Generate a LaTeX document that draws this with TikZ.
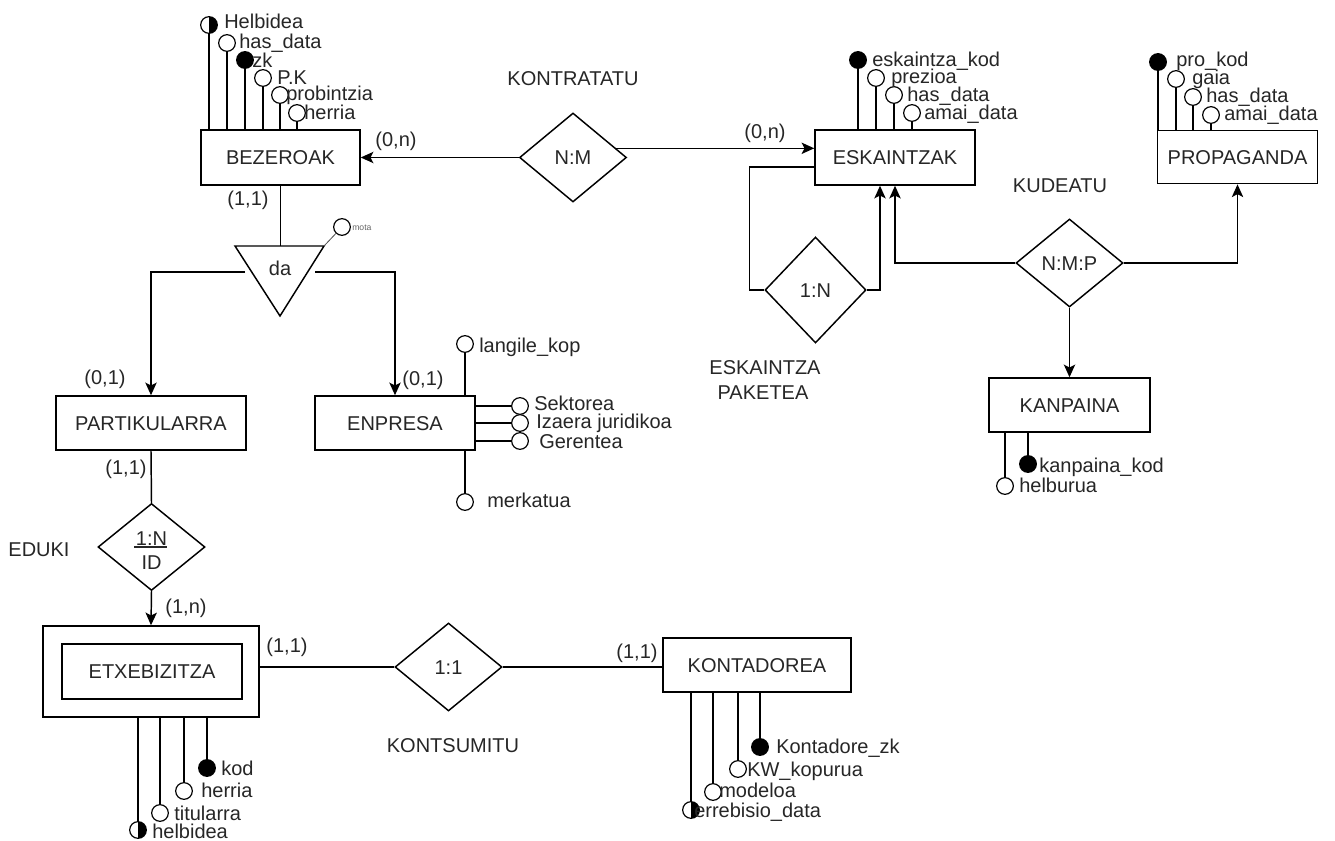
\documentclass[tikz,border=0pt]{standalone}
\usepackage{fontspec}
\setmainfont{Liberation Sans}
\usetikzlibrary{arrows.meta,shapes.geometric,calc}
\begin{document}
\begin{tikzpicture}[x=0.75pt,y=-0.75pt,
  txt/.style={font=\fontsize{15}{18}\selectfont, text=black!85, inner sep=0pt, text height=10.7pt, text depth=0pt},
  lbl/.style={txt, anchor=west},
  ent/.style={draw, line width=1.1pt, fill=white, txt},
  rel/.style={diamond, draw, line width=1.1pt, inner sep=0pt, txt},
  conn/.style={line width=1.1pt},
  arr/.style={conn, -{Stealth[length=9.5pt,width=8.5pt,inset=2.2pt]}},
  attr/.style={circle, draw, line width=0.9pt, fill=white, minimum size=12.5pt, inner sep=0pt},
  key/.style={attr, fill=black},
  half/.style={attr, path picture={\fill[black] (path picture bounding box.north) rectangle (path picture bounding box.south east);}}
]
\useasboundingbox (0,0) rectangle (1335,841);

% ---------- entities ----------
\node[ent, minimum width=119.25pt, minimum height=41.25pt] (bez) at (280.5,157.5) {BEZEROAK};
\node[ent, minimum width=120pt, minimum height=41.25pt] (esk) at (895,157.5) {ESKAINTZAK};
\node[ent, minimum width=120pt, minimum height=40pt] (prop) at (1237.5,157) {PROPAGANDA};
\node[ent, minimum width=120.75pt, minimum height=40.5pt] (kan) at (1069.5,405) {KANPAINA};
\node[ent, minimum width=142.5pt, minimum height=40.5pt] (part) at (151,423) {PARTIKULARRA};
\node[ent, minimum width=120pt, minimum height=40.5pt] (enp) at (395,423) {ENPRESA};
\node[ent, minimum width=162pt, minimum height=68.25pt] (etx) at (151,671.5) {};
\node[ent, minimum width=135pt, minimum height=41.25pt] (etxi) at (152,671.5) {ETXEBIZITZA};
\node[ent, minimum width=141pt, minimum height=40.5pt] (kont) at (757,665) {KONTADOREA};

% ---------- relationships ----------
\node[rel, minimum width=80.25pt, minimum height=66.75pt] (nm) at (573,157.5) {N:M};
\node[txt] (nmlbl) at (573,78) {KONTRATATU};
\node[rel, minimum width=75.75pt, minimum height=79.5pt] (pak) at (815.5,290) {1:N};
\node[txt] (paklbl1) at (765,367) {ESKAINTZA};
\node[txt] (paklbl2) at (763,392) {PAKETEA};
\node[rel, minimum width=80.25pt, minimum height=66pt] (nmp) at (1069.5,263) {N:M:P};
\node[txt] (nmplbl) at (1060,185) {KUDEATU};
\node[rel, minimum width=80.25pt, minimum height=65.25pt] (edk) at (151.5,547) {};
\node[txt] (edk1) at (151.5,538) {1:N};
\node[txt] (edk2) at (151.5,562) {ID};
\draw[line width=0.9pt, black!85] (134,547) -- (167,547);
\node[txt] (edklbl) at (39,549) {EDUKI};
\node[rel, minimum width=80.25pt, minimum height=66pt] (kons) at (448.5,667) {1:1};
\node[txt] (konslbl) at (453,745) {KONTSUMITU};

% ---------- generalisation triangle ----------
\coordinate (t1) at (235,246);
\coordinate (t2) at (324,246);
\coordinate (t3) at (280,316);
\coordinate (ttop) at (280.5,246);
\draw[line width=1.1pt] (t1) -- (t2) -- (t3) -- cycle;
\node[txt] (da) at (280,268) {da};
\coordinate (dl) at (245,272);
\coordinate (dr) at (315,272);
\node[attr] (mota) at (342,227) {};
\draw[line width=0.6pt, black!70] (t2) -- (mota);
\node[anchor=west, inner sep=0pt, font=\fontsize{6.5}{7}\selectfont, text=black!60] (motal) at (352,228) {mota};

% ---------- connectors ----------
\draw[arr] (nm.west) -- (nm.west -| bez.east);
\draw[arr] (nm.12) -- (nm.12 -| esk.west);
\node[txt] (c1) at (396,139) {(0,n)};
\node[txt] (c2) at (765,131) {(0,n)};

\draw[conn] (pak.west) -- ($(pak.west)+(-15,0)$) |- ($(esk.west)+(0,9.5)$);
\draw[arr] (pak.east) -| ($(esk.south)+(-15,0)$);
\draw[arr] (nmp.west) -| (esk.south);
\draw[arr] (nmp.east) -| (prop.south);
\draw[arr] (nmp.south) -- (kan.north);

\draw[conn] (bez.south) -- (ttop);
\node[txt] (c3) at (248,198) {(1,1)};
\draw[arr] (dl) -| (part.north);
\draw[arr] (dr) -| (enp.north);
\node[txt] (c4) at (105,377) {(0,1)};
\node[txt] (c5) at (423,378) {(0,1)};

\draw[conn] (part.south) -- (edk.north);
\node[txt] (c6) at (126,467) {(1,1)};
\draw[arr] (edk.south) -- (etx.north);
\node[txt] (c7) at (186,606) {(1,n)};

\draw[conn] (kons.west -| etx.east) -- (kons.west);
\draw[conn] (kons.east) -- (kons.east -| kont.west);
\node[txt] (c8) at (287,645) {(1,1)};
\node[txt] (c9) at (637,651) {(1,1)};

% ---------- BEZEROAK attributes ----------
\node[half] (b1) at (209,25) {};
\node[attr] (b2) at (227,43) {};
\node[key]  (b3) at (245,60) {};
\node[attr] (b4) at (263,78) {};
\node[attr] (b5) at (280,95) {};
\node[attr] (b6) at (297,113) {};
\foreach \a in {b1,b2,b3,b4,b5,b6} \draw[conn] (bez.north -| \a) -- (\a);
\node[lbl] (b1l) at (224,21) {Helbidea};
\node[lbl] (b2l) at (239,41) {has\_data};
\node[lbl] (b3l) at (252,60) {zk};
\node[lbl] (b4l) at (277,77) {P.K};
\node[lbl] (b5l) at (286,93) {probintzia};
\node[lbl] (b6l) at (304,112) {herria};

% ---------- ESKAINTZAK attributes ----------
\node[key]  (e1) at (858,60) {};
\node[attr] (e2) at (876,78) {};
\node[attr] (e3) at (894,95) {};
\node[attr] (e4) at (912,113) {};
\foreach \a in {e1,e2,e3,e4} \draw[conn] (esk.north -| \a) -- (\a);
\node[lbl] (e1l) at (872,59) {eskaintza\_kod};
\node[lbl] (e2l) at (891,76) {prezioa};
\node[lbl] (e3l) at (907,94) {has\_data};
\node[lbl] (e4l) at (924,112) {amai\_data};

% ---------- PROPAGANDA attributes ----------
\node[key]  (p1) at (1158,62) {};
\node[attr] (p2) at (1176,79) {};
\node[attr] (p3) at (1193,97) {};
\node[attr] (p4) at (1211,115) {};
\foreach \a in {p1,p2,p3,p4} \draw[conn] (prop.north -| \a) -- (\a);
\node[lbl] (p1l) at (1176,59) {pro\_kod};
\node[lbl] (p2l) at (1192,77) {gaia};
\node[lbl] (p3l) at (1206,95) {has\_data};
\node[lbl] (p4l) at (1224,113) {amai\_data};

% ---------- KANPAINA attributes ----------
\node[attr] (k1) at (1005,486) {};
\node[key]  (k2) at (1028,464) {};
\foreach \a in {k1,k2} \draw[conn] (kan.south -| \a) -- (\a);
\node[lbl] (k1l) at (1019,485) {helburua};
\node[lbl] (k2l) at (1039,465) {kanpaina\_kod};

% ---------- ENPRESA attributes ----------
\node[attr] (n1) at (465,344) {};
\node[attr] (n2) at (520,406) {};
\node[attr] (n3) at (520,423) {};
\node[attr] (n4) at (520,441) {};
\node[attr] (n5) at (465,502) {};
\draw[conn] (enp.north -| n1) -- (n1);
\draw[conn] (enp.south -| n5) -- (n5);
\foreach \a in {n2,n3,n4} \draw[conn] (enp.east |- \a) -- (\a);
\node[lbl] (n1l) at (479,345) {langile\_kop};
\node[lbl] (n2l) at (534,403) {Sektorea};
\node[lbl] (n3l) at (536,421) {Izaera juridikoa};
\node[lbl] (n4l) at (539,441) {Gerentea};
\node[lbl] (n5l) at (487,500) {merkatua};

% ---------- ETXEBIZITZA attributes ----------
\node[half] (x1) at (138,830) {};
\node[attr] (x2) at (160,813) {};
\node[attr] (x3) at (184,791) {};
\node[key]  (x4) at (207,768) {};
\foreach \a in {x1,x2,x3,x4} \draw[conn] (etx.south -| \a) -- (\a);
\node[lbl] (x1l) at (152,831) {helbidea};
\node[lbl] (x2l) at (174,813) {titularra};
\node[lbl] (x3l) at (201,790) {herria};
\node[lbl] (x4l) at (221,768) {kod};

% ---------- KONTADOREA attributes ----------
\node[half] (o1) at (691,810) {};
\node[attr] (o2) at (713,792) {};
\node[attr] (o3) at (738,769) {};
\node[key]  (o4) at (760,747) {};
\foreach \a in {o1,o2,o3,o4} \draw[conn] (kont.south -| \a) -- (\a);
\node[lbl] (o1l) at (694,810) {errebisio\_data};
\node[lbl] (o2l) at (719,790) {modeloa};
\node[lbl] (o3l) at (747,769) {KW\_kopurua};
\node[lbl] (o4l) at (776,746) {Kontadore\_zk};
\end{tikzpicture}
\end{document}
